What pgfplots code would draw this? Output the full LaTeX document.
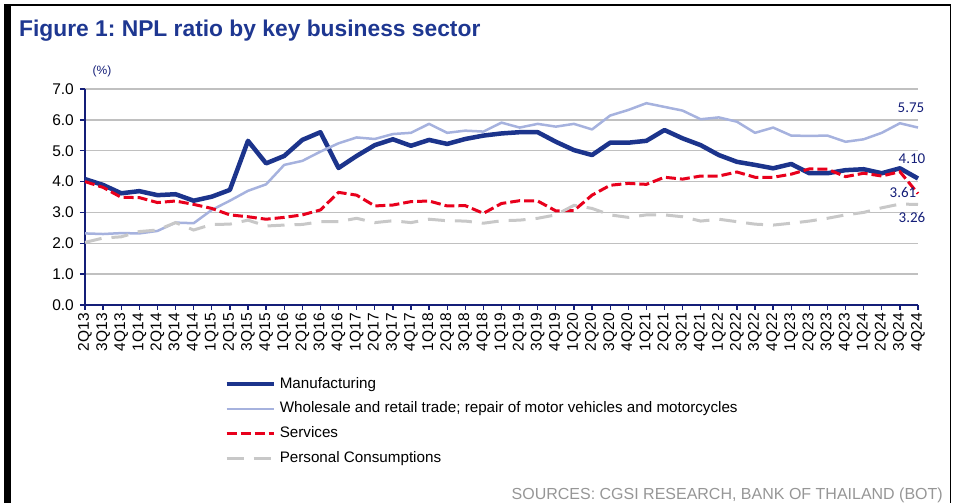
\documentclass[border=0pt]{standalone}
\usepackage{pgfplots}
\pgfplotsset{compat=1.18}
\usepackage{pgfplotstable}
\usepackage{fontspec}
\setmainfont{Liberation Sans}
\newfontfamily\lblfont{Carlito}
\frenchspacing
\definecolor{navy}{RGB}{28,52,140}
\definecolor{axnavy}{RGB}{20,30,120}
\definecolor{ltblue}{RGB}{166,178,222}
\definecolor{npred}{RGB}{232,0,28}
\definecolor{ltgray}{RGB}{200,200,200}
\definecolor{gridgray}{RGB}{192,192,192}
\definecolor{srcgray}{RGB}{150,150,150}
\definecolor{titleblue}{RGB}{30,55,145}

\pgfplotstableread{
x m w s p
0 4.08 2.32 4.00 2.03
1 3.89 2.30 3.81 2.17
2 3.62 2.33 3.49 2.21
3 3.69 2.32 3.48 2.38
4 3.56 2.40 3.32 2.43
5 3.59 2.67 3.37 2.67
6 3.38 2.65 3.26 2.43
7 3.51 3.08 3.13 2.61
8 3.73 3.38 2.92 2.62
9 5.32 3.70 2.86 2.75
10 4.59 3.91 2.78 2.56
11 4.83 4.54 2.84 2.59
12 5.35 4.67 2.92 2.61
13 5.60 4.97 3.08 2.70
14 4.44 5.24 3.65 2.70
15 4.83 5.43 3.56 2.81
16 5.18 5.38 3.21 2.67
17 5.37 5.54 3.24 2.73
18 5.16 5.58 3.35 2.67
19 5.35 5.87 3.37 2.78
20 5.22 5.58 3.21 2.73
21 5.38 5.65 3.22 2.72
22 5.49 5.62 2.97 2.65
23 5.56 5.91 3.29 2.73
24 5.60 5.75 3.38 2.75
25 5.60 5.87 3.37 2.81
26 5.29 5.78 3.05 2.92
27 5.02 5.87 3.06 3.23
28 4.86 5.69 3.56 3.13
29 5.26 6.14 3.88 2.92
30 5.26 6.32 3.94 2.84
31 5.32 6.54 3.91 2.92
32 5.67 6.42 4.14 2.92
33 5.40 6.30 4.08 2.86
34 5.18 6.02 4.18 2.72
35 4.86 6.08 4.18 2.78
36 4.64 5.94 4.31 2.70
37 4.54 5.58 4.14 2.62
38 4.43 5.75 4.14 2.59
39 4.57 5.49 4.24 2.65
40 4.27 5.48 4.41 2.72
41 4.27 5.49 4.40 2.81
42 4.37 5.29 4.16 2.92
43 4.40 5.37 4.27 3.00
44 4.27 5.58 4.18 3.15
45 4.43 5.89 4.32 3.27
46 4.10 5.75 3.61 3.26
}\npldata

\begin{document}
\begin{tikzpicture}
\path[use as bounding box] (0,0) rectangle (954pt,503pt);
% frame
\fill[black] (4pt,0pt) rectangle (10.7pt,498.5pt);
\draw[line width=1.3pt] (4pt,498pt) -- (950.5pt,498pt) -- (950.5pt,0pt);
% title
\node[anchor=base west, inner sep=0pt, text=titleblue, font=\fontsize{22.8}{26}\selectfont\bfseries] at (19pt,466pt) {Figure 1: NPL ratio by key business sector};
% unit
\node[text=axnavy, inner sep=0pt, font=\fontsize{12}{14}\selectfont] at (102pt,432pt) {(\%)};
% source
\node[anchor=base east, inner sep=0pt, text=srcgray, font=\fontsize{16}{18}\selectfont] at (943pt,3.5pt) {SOURCES: CGSI RESEARCH, BANK OF THAILAND (BOT)};

\begin{axis}[
  at={(85pt,198pt)}, anchor=south west,
  width=833pt, height=216pt, scale only axis,
  xmin=0, xmax=46, ymin=0, ymax=7,
  clip=false,
  axis x line*=bottom, axis y line*=left,
  axis line style={draw=axnavy, line width=1.6pt},
  tick style={draw=axnavy, line width=1.3pt},
  tick align=outside, major tick length=5pt,
  ytick={0,1,...,7},
  ymajorgrids, grid style={draw=gridgray, line width=1.5pt},
  xtick={0,...,46},
  xticklabels={2Q13,3Q13,4Q13,1Q14,2Q14,3Q14,4Q14,1Q15,2Q15,3Q15,4Q15,1Q16,2Q16,3Q16,4Q16,1Q17,2Q17,3Q17,4Q17,1Q18,2Q18,3Q18,4Q18,1Q19,2Q19,3Q19,4Q19,1Q20,2Q20,3Q20,4Q20,1Q21,2Q21,3Q21,4Q21,1Q22,2Q22,3Q22,4Q22,1Q23,2Q23,3Q23,4Q23,1Q24,2Q24,3Q24,4Q24},
  x tick label style={rotate=90, anchor=east, inner sep=3pt, font=\fontsize{15.5}{17}\selectfont},
  y tick label style={anchor=east, inner sep=6pt, font=\fontsize{15.5}{17}\selectfont, /pgf/number format/.cd, fixed, fixed zerofill, precision=1, assume math mode=true},
  legend style={at={(axis cs:7.68,-2.33)}, anchor=north west, draw=none, fill=none,
     inner sep=0pt, row sep=10.7pt, font=\fontsize{15.2}{17}\selectfont,
     nodes={inner sep=0pt, text height=11pt, text depth=3pt},
     /tikz/column 1/.style={column sep=4pt}},
  legend cell align=left,
  legend image code/.code={\draw[#1] (0pt,0pt) -- (47pt,0pt);},
]
\addplot[navy, line width=4.5pt, line join=round] table[x=x,y=m]{\npldata};
\addlegendentry{Manufacturing}
\addplot[ltblue, line width=2.5pt, line join=round] table[x=x,y=w]{\npldata};
\addlegendentry{Wholesale and retail trade; repair of motor vehicles and motorcycles}
\addplot[npred, line width=3pt, dash pattern=on 10pt off 4pt] table[x=x,y=s]{\npldata};
\addlegendentry{Services}
\addplot[ltgray, line width=3pt, dash pattern=on 17pt off 10pt] table[x=x,y=p]{\npldata};
\addlegendentry{Personal Consumptions}
\node[text=axnavy, font=\lblfont\fontsize{15}{17}\selectfont] at (axis cs:45.61,6.38) {5.75};
\node[text=axnavy, font=\lblfont\fontsize{15}{17}\selectfont] at (axis cs:45.67,4.73) {4.10};
\node[text=axnavy, font=\lblfont\fontsize{15}{17}\selectfont] at (axis cs:45.17,3.63) {3.61};
\node[text=axnavy, font=\lblfont\fontsize{15}{17}\selectfont] at (axis cs:45.67,2.85) {3.26};
\end{axis}
\end{tikzpicture}
\end{document}
